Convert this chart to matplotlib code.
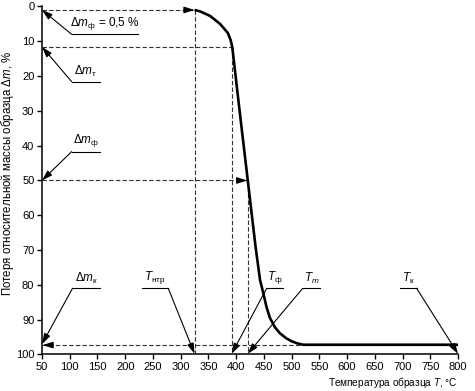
import matplotlib
matplotlib.use("Agg")
import matplotlib.pyplot as plt
import numpy as np

plt.rcParams['font.family'] = ['Liberation Sans', 'DejaVu Sans']
plt.rcParams['mathtext.fontset'] = 'custom'
plt.rcParams['mathtext.rm'] = 'Liberation Sans'
plt.rcParams['mathtext.it'] = 'Liberation Sans:italic'

# TG curve
curve_T = [325, 335, 353, 371, 385, 390, 393, 407, 421, 435, 443, 449, 455,
           461, 470, 479, 490, 500, 510, 521, 800]
curve_dm = [1.0, 1.4, 2.7, 5.0, 7.6, 9.6, 11.6, 31, 50, 69, 78.5, 82.4, 86.5,
            89.5, 92.2, 93.9, 95.3, 96.2, 96.8, 97.2, 97.2]

# characteristic points
T_ntr, T_f, T_m, T_k = 325, 392, 421, 800
dm_f05, dm_t, dm_f, dm_k = 1.0, 11.6, 50, 97.3

x_ticks = list(range(50, 801, 50))
y_ticks = list(range(0, 101, 10))

fig = plt.figure(figsize=(4.75, 3.91), dpi=100)
ax = fig.add_axes([0.0884, 0.0934, 0.8758, 0.89])
ax.set_xlim(50, 800)
ax.set_ylim(100, 0)
ax.set_xticks(x_ticks)
ax.set_yticks(y_ticks)
ax.tick_params(labelsize=8, length=3.5, width=1, direction='out', pad=2)
for s in ['top', 'right']:
    ax.spines[s].set_visible(False)
for s in ['left', 'bottom']:
    ax.spines[s].set_linewidth(1.1)

dash = dict(color='#333333', lw=0.8, ls=(0, (4, 2)), zorder=2)
head = dict(arrowstyle='-|>,head_length=0.7,head_width=0.22', color='black',
            lw=0.8, mutation_scale=9, shrinkA=0, shrinkB=0)

# dashed construction lines
ax.plot([50, T_ntr], [dm_f05, dm_f05], **dash)
ax.plot([50, T_f], [dm_t, dm_t], **dash)
ax.plot([50, T_m], [dm_f, dm_f], **dash)
ax.plot([50, T_k], [dm_k, dm_k], **dash)
ax.plot([T_ntr, T_ntr], [dm_f05, 100], **dash)
ax.plot([T_f, T_f], [dm_t, 100], **dash)
ax.plot([T_m, T_m], [dm_f, 100], **dash)
ax.annotate('', xy=(T_ntr, dm_f05), xytext=(T_ntr - 12, dm_f05), arrowprops=head)
ax.annotate('', xy=(T_m - 1, dm_f), xytext=(T_m - 13, dm_f), arrowprops=head)
ax.annotate('', xy=(51, dm_k), xytext=(63, dm_k), arrowprops=head)

# the curve
ax.plot(curve_T, curve_dm, color='black', lw=1.9, solid_capstyle='butt', zorder=3)

# leader annotations: (label, tip, knee, underline end)
leaders = [
    (r'$\Delta m_{\mathrm{ф}}$ = 0,5 %', (50, dm_f05), (103.5, 8.0), 223),
    (r'$\Delta m_{\mathrm{т}}$', (50, dm_t), (103.5, 21.6), 154.6),
    (r'$\Delta m_{\mathrm{ф}}$', (50, dm_f), (103.5, 41.7), 154.6),
    (r'$\Delta m_{\mathrm{к}}$', (50, dm_k - 0.3), (105, 81.0), 154.6),
    (r'$T_{\mathrm{нтр}}$', (T_ntr, 99.8), (277.7, 81.0), 229.7),
    (r'$T_{\mathrm{ф}}$', (T_f, 99.8), (455, 81.0), 485),
    (r'$T_m$', (T_m, 99.8), (520, 81.0), 552),
    (r'$T_{\mathrm{к}}$', (T_k, 99.8), (725.5, 81.0), 695),
]
for label, tip, knee, end in leaders:
    ax.annotate('', xy=tip, xytext=knee, arrowprops=head, zorder=4)
    ax.plot([knee[0], end], [knee[1], knee[1]], color='black', lw=0.8, zorder=4)
    ax.text((knee[0] + end) / 2, knee[1] - 0.8, label, ha='center', va='bottom',
            fontsize=8.5)

ax.set_ylabel(r'Потеря относительной массы образца $\Delta m$, %', fontsize=8.3)
ax.yaxis.set_label_coords(-0.062, 0.52)
ax.set_xlabel(r'Температура образца $T$, °C', fontsize=7.2)
ax.xaxis.set_label_coords(1.0, -0.058)
ax.xaxis.label.set_horizontalalignment('right')

fig.savefig('out.png', dpi=100)
